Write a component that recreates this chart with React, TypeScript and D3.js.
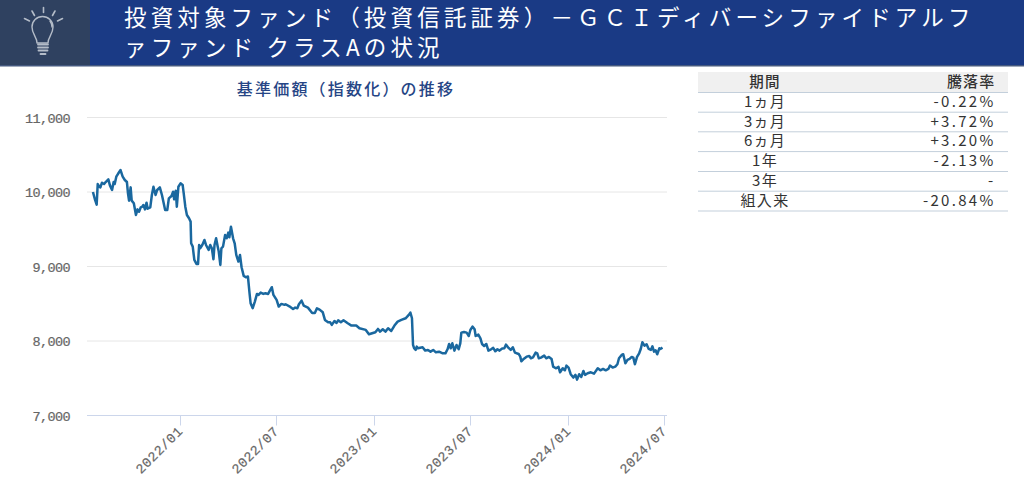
import React from "react";
import * as d3 from "d3";

const FONT = "'Noto Sans CJK JP','Noto Sans',sans-serif";
const MONO = "'Liberation Mono',monospace";

const titleLines = ["投資対象ファンド（投資信託証券）－ＧＣＩディバーシファイドアルフ", "ァファンド クラスAの状況"];
const chartTitle = "基準価額（指数化）の推移";
const yTicks = [7000, 8000, 9000, 10000, 11000];
const xTickLabels = ["2022/01", "2022/07", "2023/01", "2023/07", "2024/01", "2024/07"];
const tablePeriods = ["1ヵ月", "3ヵ月", "6ヵ月", "1年", "3年", "組入来"];
const tableRates = ["-0.22%", "+3.72%", "+3.20%", "-2.13%", "-", "-20.84%"];

// days since 2022-01-01
const days = [-164,-160,-157,-155,-152,-150,-147,-143,-140,-135,-132,-128,-125,-123,-120,-117,-112,-108,-104,-100,-98,-96,-93,-91,-87,-83,-80,-77,-74,-71,-69,-66,-63,-61,-56,-53,-50,-46,-43,-38,-34,-28,-24,-21,-16,-13,-11,-8,-6,-3,1,5,7,10,13,17,
20,21,24,27,31,34,36,38,42,46,49,54,57,60,63,65,68,71,73,76,78,81,85,88,91,93,96,100,103,106,110,113,116,120,124,128,131,133,137,141,145,148,152,157,161,166,173,176,182,186,191,197,
199,206,213,217,221,224,229,233,241,249,254,258,263,269,273,279,283,286,291,295,298,303,308,316,323,332,338,350,356,362,368,373,377,382,387,392,398,404,410,417,425,431,434,437,439,441,444,446,
448,457,462,467,472,477,482,488,495,500,504,507,510,513,517,521,525,528,530,535,540,544,547,551,555,557,562,566,569,573,577,581,586,590,594,598,602,607,611,614,619,623,627,631,638,641,643,648,653,658,661,665,670,673,676,
680,686,690,695,700,703,708,713,716,721,725,728,732,736,741,745,748,752,756,760,763,768,774,780,787,792,797,802,807,810,815,820,824,827,832,835,839,843,847,851,854,857,861,865,868,871,875,879,883,887,890,893,896,899,903,905,909];

const navValues = [10000,9893,9830,10107,10071,10062,10125,10107,10134,10170,10089,10027,10134,10107,10206,10241,10295,10206,10161,10134,9982,9884,10062,9884,9848,9691,9767,9736,9794,9803,9826,9767,9857,9776,9794,9960,10071,9960,10027,10062,9960,9758,9758,9915,9946,10004,9901,10018,9803,10071,10116,10094,9982,9803,9691,9647,
9602,9312,9267,9088,9035,9035,9289,9245,9289,9356,9289,9222,9289,9245,9097,9289,9379,9267,9200,9021,9245,9267,9423,9379,9455,9392,9535,9379,9312,9155,9066,9155,8990,8874,8856,8865,8641,8507,8440,8529,8632,8619,8650,8632,8641,8632,8722,8619,8552,8462,8498,8485,
8493,8466,8430,8448,8439,8493,8542,8475,8448,8377,8377,8439,8421,8385,8283,8251,8251,8216,8269,8242,8278,8251,8278,8238,8207,8207,8171,8149,8090,8104,8117,8162,8126,8157,8126,8171,8135,8207,8260,8283,8305,8350,8381,8305,7947,7903,7880,7925,
7902,7915,7871,7880,7857,7880,7848,7857,7835,7835,7889,7960,7902,7969,7871,7947,7889,7969,8112,8121,8112,8067,8148,8193,8157,8067,8085,8036,7960,7933,7960,7871,7889,7907,7862,7889,7871,7898,7902,7951,7907,7880,7915,7844,7826,7790,7728,7763,7790,7799,7768,7781,7844,7835,7768,
7777,7804,7768,7786,7759,7656,7634,7652,7580,7634,7607,7670,7643,7554,7509,7545,7482,7554,7518,7598,7545,7567,7580,7562,7634,7607,7625,7607,7625,7670,7643,7656,7688,7768,7813,7822,7701,7746,7759,7786,7777,7688,7786,7835,7893,7983,7938,7956,7893,7880,7929,7857,7875,7822,7902,7893,7911];

const toDate = (d: number) => new Date(Date.UTC(2022, 0, 1 + d));
const parseTick = (s: string) => new Date(Date.UTC(+s.slice(0, 4), +s.slice(5) - 1, 1));

const x = d3.scaleUtc().domain([toDate(0), toDate(730)]).range([180, 567.5]);
const y = d3.scaleLinear().domain([7000, 11000]).range([415.5, 117.5]);
const line = d3.line<number>().x((d) => x(toDate(d))).y((_, i) => y(navValues[i])).curve(d3.curveLinear);

const Bulb = () => (
  <g fill="none" stroke="#b4bcc8" strokeWidth={1.4} strokeLinecap="round" strokeLinejoin="round">
    <path d="M38.5 43 C38.5 37 33.5 34.5 33.5 27 A10.5 10.5 0 0 1 54.5 27 C54.5 34.5 49.5 37 49.5 43 Z" transform="translate(-1.5,0)" />
    <path d="M38 44.5H48M38 47.5H48M38.5 50.5H47.5M40.5 54H45.5" strokeWidth={1.8} />
    <path d="M50 21 C51.5 23 52 25 52 27" />
    <path d="M43.5 7.5V12.5M32 11L34.5 15.5M55 11L52.5 15.5M24.5 18.5L29.5 21M62.5 18.5L57.5 21" strokeWidth={1.6} />
  </g>
);

export default function App() {
  const tableLines = [72.5, 92.5, 112.2, 131.8, 151.6, 171.5, 191.2, 211];
  return (
    <svg width={1024} height={483} style={{ position: "absolute", left: 0, top: 0, fontFamily: FONT }}>
      <rect width={1024} height={483} fill="#fff" />
      <rect x={90} width={934} height={66} fill="#1a3a85" />
      <rect width={90} height={66} fill="#2f4160" />
      <rect y={65} width={1024} height={1.5} fill="#45597f" />
      <Bulb />
      {titleLines.map((t, i) => (
        <text key={i} x={124} y={26 + i * 30} fill="#fff" fontSize={22.5} letterSpacing={4.15}>{t}</text>
      ))}

      <text x={346} y={95} textAnchor="middle" fill="#264585" fontSize={16} fontWeight={500} letterSpacing={2.2}>{chartTitle}</text>

      {yTicks.filter((t) => t > 7000).map((t) => (
        <line key={t} x1={87} x2={667} y1={y(t)} y2={y(t)} stroke="#e6e6e6" strokeWidth={1} />
      ))}
      {yTicks.map((t) => (
        <text key={t} x={70} y={y(t) + 5} textAnchor="end" fill="#666" fontFamily={MONO} fontSize={13.5} letterSpacing={-0.6} strokeWidth={0.2} stroke="#666">{d3.format(",")(t)}</text>
      ))}
      <line x1={87} x2={667} y1={415.5} y2={415.5} stroke="#ccd6eb" />
      {xTickLabels.map((s) => {
        const tx = Math.round(x(parseTick(s))) + 0.5;
        return (
          <g key={s}>
            <line x1={tx} x2={tx} y1={415.5} y2={425.5} stroke="#ccd6eb" />
            <text transform={`translate(${tx + 3},${432}) rotate(-45)`} textAnchor="end" fill="#666" fontFamily={MONO} fontSize={13.5} letterSpacing={0.5} strokeWidth={0.2} stroke="#666">{s}</text>
          </g>
        );
      })}
      <path d={line(days) ?? ""} fill="none" stroke="#1a689f" strokeWidth={2.5} strokeLinejoin="round" />

      <rect x={698} y={72} width={310} height={20} fill="#f0f0f0" />
      {tableLines.slice(1).map((ly) => (
        <line key={ly} x1={698} x2={1008} y1={ly} y2={ly} stroke="#c3cfdb" strokeWidth={1} />
      ))}
      <text x={765} y={87} textAnchor="middle" fill="#333" fontSize={14.5} fontWeight={500} letterSpacing={1.2}>期間</text>
      <text x={995.5} y={87} textAnchor="end" fill="#333" fontSize={15} fontWeight={500} letterSpacing={1.2}>騰落率</text>
      {tablePeriods.map((p, i) => (
        <text key={p} x={765} y={tableLines[i + 1] + 14.5} textAnchor="middle" fill="#333" fontSize={15} letterSpacing={1.3}>{p}</text>
      ))}
      {tableRates.map((r, i) => (
        <text key={i} x={995.5} y={tableLines[i + 1] + 14.5} textAnchor="end" fill="#333" fontSize={15} letterSpacing={2.3}>{r}</text>
      ))}
    </svg>
  );
}
